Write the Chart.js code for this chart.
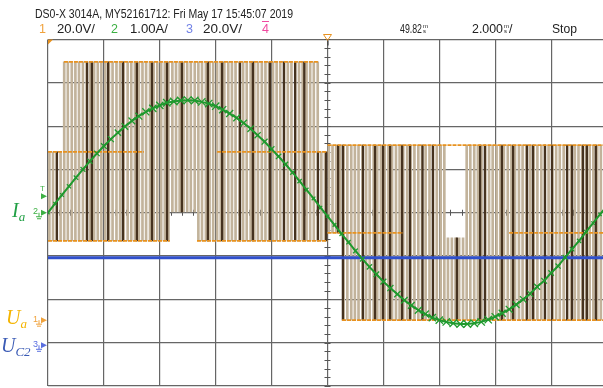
<!DOCTYPE html>
<html lang="en">
<head>
  <meta charset="UTF-8" />
  <title>DSO-X 3014A capture</title>
  <script src="https://cdn.jsdelivr.net/npm/chart.js"></script>
  <style>
    body { margin: 0; background: #fff; overflow: hidden; width: 603px; height: 388px; position: relative; }
    #scope { position: absolute; left: 0; top: 0; }
    .t {
      position: absolute; white-space: nowrap; line-height: 1; color: #222;
      font-family: 'Liberation Sans Narrow', 'Liberation Sans', Arial, sans-serif;
      font-size: 12.5px; transform-origin: 0 50%;
    }
    .small { font-size: 6px; line-height: 5px; }
    .lbl {
      position: absolute; white-space: nowrap; line-height: 1;
      font-family: 'Liberation Serif', 'DejaVu Serif', serif; font-style: italic; font-size: 20px;
    }
    .lbl sub { font-size: 13px; vertical-align: -4px; }
  </style>
</head>
<body>
  <canvas id="scope" width="612" height="388"></canvas>

  <div class="t fit" data-w="258" style="left:35px;top:7.5px">DS0-X 3014A, MY52161712: Fri May 17 15:45:07 2019</div>
  <div class="t" style="left:39px;top:22.5px;color:#f0a23c">1</div>
  <div class="t fit" data-w="38" style="left:57px;top:22.5px">20.0V/</div>
  <div class="t" style="left:111px;top:22.5px;color:#3cb043">2</div>
  <div class="t fit" data-w="38" style="left:130px;top:22.5px">1.00A/</div>
  <div class="t" style="left:186px;top:22.5px;color:#7282e6">3</div>
  <div class="t fit" data-w="39" style="left:203px;top:22.5px">20.0V/</div>
  <div class="t" style="left:262px;top:22.5px;color:#f04aa0;text-decoration:overline">4</div>
  <div class="t fit" data-w="22" style="left:400px;top:22.5px">49.82</div>
  <div class="t small" style="left:423px;top:24px">m<br>s</div>
  <div class="t fit" data-w="31" style="left:472px;top:22.5px">2.000</div>
  <div class="t small" style="left:504px;top:24px">m<br>s</div>
  <div class="t" style="left:509px;top:22.5px">/</div>
  <div class="t fit" data-w="25" style="left:552px;top:22.5px">Stop</div>

  <div class="lbl" style="left:12px;top:200px;color:#22a046">I<sub>a</sub></div>
  <div class="lbl" style="left:6px;top:307px;color:#f4b400">U<sub>a</sub></div>
  <div class="lbl" style="left:1px;top:335px;color:#3b5bb5">U<sub>C2</sub></div>

  <script>
    // time axis in ms (2 ms/div, 10 divs)
    // ch1 Ua: 20 V/div, ch2 Ia: 1 A/div, ch3 Uc2: 20 V/div

    // switching edges of Ua (ms)
    const pulseTimes = [
      0.05, 0.18, 0.31, 0.45, 0.58, 0.71, 0.85, 0.98, 1.11, 1.25, 1.38, 1.51, 1.65, 1.78, 1.91,
      2.05, 2.18, 2.31, 2.45, 2.58, 2.71, 2.85, 2.98, 3.11, 3.25, 3.38, 3.51, 3.65, 3.78, 3.91,
      4.05, 4.18, 4.31, 4.45, 4.58, 4.71, 4.85, 4.98, 5.11, 5.25, 5.38, 5.51, 5.65, 5.78, 5.91,
      6.05, 6.18, 6.31, 6.45, 6.58, 6.71, 6.85, 6.98, 7.11, 7.25, 7.38, 7.51, 7.65, 7.78, 7.91,
      8.05, 8.18, 8.31, 8.45, 8.58, 8.71, 8.85, 8.98, 9.11, 9.25, 9.38, 9.51, 9.65, 9.78, 9.91,
      10.05, 10.18, 10.31, 10.45, 10.58, 10.71, 10.85, 10.98, 11.11, 11.25, 11.38, 11.51, 11.65, 11.78, 11.91,
      12.05, 12.18, 12.31, 12.45, 12.58, 12.71, 12.85, 12.98, 13.11, 13.25, 13.38, 13.51, 13.65, 13.78, 13.91,
      14.05, 14.18, 14.31, 14.45, 14.58, 14.71, 14.85, 14.98, 15.11, 15.25, 15.38, 15.51, 15.65, 15.78, 15.91,
      16.05, 16.18, 16.31, 16.45, 16.58, 16.71, 16.85, 16.98, 17.11, 17.25, 17.38, 17.51, 17.65, 17.78, 17.91,
      18.05, 18.18, 18.31, 18.45, 18.58, 18.71, 18.85, 18.98, 19.11, 19.25, 19.38, 19.51, 19.65, 19.78, 19.91
    ];
    // brighter (darker brown) edges
    const darkPulseTimes = [
      0.32, 1.40, 1.57, 2.15, 2.68, 3.18, 3.72, 4.26, 4.79, 5.72, 6.23, 6.87, 7.33, 7.94, 8.44,
      8.84, 9.17, 9.66, 9.95, 10.38, 10.55, 11.27, 11.70, 11.99, 12.24, 12.67, 12.95, 13.40, 13.77,
      14.63, 15.46, 15.63, 16.24, 16.64, 17.14, 17.35, 17.78, 18.03, 18.57, 18.75, 19.14, 19.28, 19.60
    ];
    // [from ms, to ms, low V, high V] of the edges
    const pulseSpans = [
      [0, 0.58, 36.6, 77.7],
      [0.58, 4.36, 36.6, 119.3],
      [4.36, 5.33, 50, 119.3],
      [5.33, 9.66, 36.6, 119.3],
      [9.66, 10.0, 36.6, 77.7],
      [10.0, 10.52, 40.3, 80.8],
      [10.52, 14.2, 0, 80.8],
      [14.2, 14.9, 0, 38],
      [14.9, 20.01, 0, 80.8]
    ];
    // flat Ua levels: [from ms, to ms, V]
    const levelSegs = [
      [0.57, 9.66, 119.3],
      [0, 3.43, 77.7],
      [6.05, 10.0, 77.7],
      [0, 4.36, 36.6],
      [5.33, 10.0, 36.6],
      [10.0, 20, 80.8],
      [10.0, 12.7, 40.3],
      [16.5, 20, 40.3],
      [10.52, 20, 0]
    ];

    // Ia (A) every 0.25 ms
    const iaTimes = [
      0, 0.25, 0.5, 0.75, 1, 1.25, 1.5, 1.75, 2, 2.25, 2.5, 2.75, 3, 3.25, 3.5, 3.75, 4, 4.25, 4.5, 4.75,
      5, 5.25, 5.5, 5.75, 6, 6.25, 6.5, 6.75, 7, 7.25, 7.5, 7.75, 8, 8.25, 8.5, 8.75, 9, 9.25, 9.5, 9.75,
      10, 10.25, 10.5, 10.75, 11, 11.25, 11.5, 11.75, 12, 12.25, 12.5, 12.75, 13, 13.25, 13.5, 13.75, 14, 14.25, 14.5, 14.75,
      15, 15.25, 15.5, 15.75, 16, 16.25, 16.5, 16.75, 17, 17.25, 17.5, 17.75, 18, 18.25, 18.5, 18.75, 19, 19.25, 19.5, 19.75, 20
    ];
    const iaValues = [
      0, 0.21, 0.41, 0.61, 0.81, 1.00, 1.19, 1.37, 1.54, 1.70, 1.85, 1.99, 2.12, 2.23, 2.33, 2.41, 2.48, 2.54, 2.57, 2.59,
      2.60, 2.59, 2.56, 2.52, 2.46, 2.38, 2.29, 2.19, 2.07, 1.94, 1.79, 1.64, 1.47, 1.30, 1.12, 0.93, 0.73, 0.53, 0.33, 0.12,
      -0.08, -0.28, -0.49, -0.68, -0.88, -1.07, -1.25, -1.42, -1.59, -1.74, -1.88, -2.02, -2.14, -2.25, -2.34, -2.42, -2.48, -2.52, -2.55, -2.57,
      -2.57, -2.55, -2.52, -2.47, -2.40, -2.32, -2.23, -2.12, -2.00, -1.87, -1.71, -1.57, -1.39, -1.23, -1.03, -0.84, -0.65, -0.44, -0.24, -0.04, 0.16
    ];

    // Uc2 (V)
    const uc2Times = [0, 20];
    const uc2Values = [40.4, 40.4];

    // ground reference offsets in divisions below centre
    const ch1Offset = 2.48;
    const ch3Offset = 3.06;

    const GRID = '#666';
    const TAN = '#c2b39b';
    const BROWN = '#45321f';
    const ORANGE = '#e8921f';
    const GREEN = '#1f9a2e';
    const BLUE = '#3050cc';

    function spanFor(t) {
      return pulseSpans.find(s => t >= s[0] && t < s[1]);
    }
    const lightBars = pulseTimes.map(t => { const s = spanFor(t); return { x: t, y: [s[2], s[3]] }; });
    const darkBars = darkPulseTimes.map(t => { const s = spanFor(t); return { x: t, y: [s[2], s[3]] }; });

    const levelPts = [];
    levelSegs.forEach(s => {
      levelPts.push({ x: s[0], y: s[2] }, { x: s[1], y: s[2] }, { x: s[1], y: null });
    });

    const ctx = document.getElementById('scope').getContext('2d');

    const scopeMarks = {
      id: 'scopeMarks',
      beforeDatasetsDraw(chart) {
        const { ctx, scales } = chart;
        const cx = scales.x.getPixelForValue(10);
        const cy = scales.y.getPixelForValue(0);
        ctx.save();
        ctx.strokeStyle = '#555';
        ctx.lineWidth = 1;
        ctx.beginPath();
        for (let v = -4; v <= 4.001; v += 0.2) {
          const py = Math.round(scales.y.getPixelForValue(v)) + 0.5;
          ctx.moveTo(cx - 3, py); ctx.lineTo(cx + 3, py);
        }
        for (let t = 0; t <= 20.001; t += 0.4) {
          const px = Math.round(scales.x.getPixelForValue(t)) + 0.5;
          ctx.moveTo(px, cy - 3); ctx.lineTo(px, cy + 3);
        }
        ctx.stroke();
        ctx.restore();
      },
      afterDraw(chart) {
        const { ctx, chartArea: a, scales } = chart;
        ctx.save();
        const marker = (y0, label, color) => {
          ctx.fillStyle = color;
          ctx.strokeStyle = color;
          ctx.font = '9px "Liberation Sans", Arial, sans-serif';
          ctx.textBaseline = 'middle';
          ctx.fillText(label, a.left - 15, y0 - 1);
          ctx.lineWidth = 1;
          ctx.beginPath();
          ctx.moveTo(a.left - 9, y0); ctx.lineTo(a.left - 9, y0 + 4);
          ctx.moveTo(a.left - 12, y0 + 4); ctx.lineTo(a.left - 6, y0 + 4);
          ctx.moveTo(a.left - 11, y0 + 6); ctx.lineTo(a.left - 7, y0 + 6);
          ctx.stroke();
          ctx.beginPath();
          ctx.moveTo(a.left - 7, y0 - 3); ctx.lineTo(a.left - 1, y0); ctx.lineTo(a.left - 7, y0 + 3);
          ctx.closePath();
          ctx.fill();
        };
        marker(scales.y1.getPixelForValue(0), '1', '#f0a23c');
        marker(scales.y.getPixelForValue(0), '2', '#3cb043');
        marker(scales.y3.getPixelForValue(0), '3', '#5a6fe0');

        // trigger level
        const ty = scales.y.getPixelForValue(0.38);
        ctx.fillStyle = '#3cb043';
        ctx.font = '8px "Liberation Sans", Arial, sans-serif';
        ctx.textBaseline = 'bottom';
        ctx.fillText('T', a.left - 8, ty - 3);
        ctx.beginPath();
        ctx.moveTo(a.left - 7, ty - 3); ctx.lineTo(a.left - 1, ty); ctx.lineTo(a.left - 7, ty + 3);
        ctx.closePath();
        ctx.fill();

        // trigger position / time reference at top
        ctx.fillStyle = ORANGE;
        ctx.beginPath();
        ctx.moveTo(a.left, a.top); ctx.lineTo(a.left + 5, a.top); ctx.lineTo(a.left, a.top + 5);
        ctx.closePath();
        ctx.fill();
        const cx = scales.x.getPixelForValue(10);
        ctx.strokeStyle = ORANGE;
        ctx.lineWidth = 1;
        ctx.beginPath();
        ctx.moveTo(cx - 4, a.top - 5); ctx.lineTo(cx + 4, a.top - 5); ctx.lineTo(cx, a.top + 1);
        ctx.closePath();
        ctx.stroke();
        ctx.strokeStyle = '#333';
        ctx.beginPath();
        ctx.moveTo(cx + 0.5, a.top + 1); ctx.lineTo(cx + 0.5, a.top + 6);
        ctx.stroke();
        ctx.restore();
      }
    };

    const chart = new Chart(ctx, {
      type: 'bar',
      data: {
        datasets: [
          {
            type: 'line',
            data: iaTimes.map((t, i) => ({ x: t, y: iaValues[i] })),
            yAxisID: 'y',
            borderColor: GREEN,
            borderWidth: 2,
            pointStyle: 'crossRot',
            pointRadius: c => 2.2 + Math.abs(iaValues[c.dataIndex] || 0) * 1.2,
            pointBorderColor: GREEN,
            pointBorderWidth: 1.3,
            tension: 0,
            order: 1
          },
          {
            type: 'line',
            data: uc2Times.map((t, i) => ({ x: t, y: uc2Values[i] })),
            yAxisID: 'y3',
            borderColor: BLUE,
            borderWidth: 3,
            pointRadius: 0,
            order: 2
          },
          {
            type: 'line',
            data: levelPts,
            yAxisID: 'y1',
            borderColor: ORANGE,
            borderWidth: 1.8,
            borderDash: [4, 1],
            pointRadius: 0,
            spanGaps: false,
            order: 3
          },
          {
            data: darkBars,
            yAxisID: 'y1',
            backgroundColor: BROWN,
            barThickness: 1.6,
            grouped: false,
            borderWidth: 0,
            order: 4
          },
          {
            data: lightBars,
            yAxisID: 'y1',
            backgroundColor: TAN,
            barThickness: 2,
            grouped: false,
            borderWidth: 0,
            order: 5
          }
        ]
      },
      options: {
        responsive: false,
        animation: false,
        devicePixelRatio: 1,
        layout: { padding: { left: 48, top: 39.5, right: 5, bottom: 2 }, autoPadding: false },
        plugins: { legend: { display: false }, tooltip: { enabled: false } },
        scales: {
          x: {
            type: 'linear', min: 0, max: 20, offset: false,
            ticks: { display: false, stepSize: 2 },
            grid: { color: GRID, lineWidth: 1.2, drawTicks: false, offset: false },
            border: { display: false }
          },
          y: {
            type: 'linear', min: -4, max: 4,
            ticks: { display: false, stepSize: 1 },
            grid: { color: GRID, lineWidth: 1.2, drawTicks: false },
            border: { display: false }
          },
          y1: { type: 'linear', display: false, min: -(4 - ch1Offset) * 20, max: (4 + ch1Offset) * 20 },
          y3: { type: 'linear', display: false, min: -(4 - ch3Offset) * 20, max: (4 + ch3Offset) * 20 }
        }
      },
      plugins: [scopeMarks]
    });

    document.querySelectorAll('.fit').forEach(el => {
      const w = el.getBoundingClientRect().width;
      el.style.transform = `scaleX(${el.dataset.w / w})`;
    });
  </script>
</body>
</html>
